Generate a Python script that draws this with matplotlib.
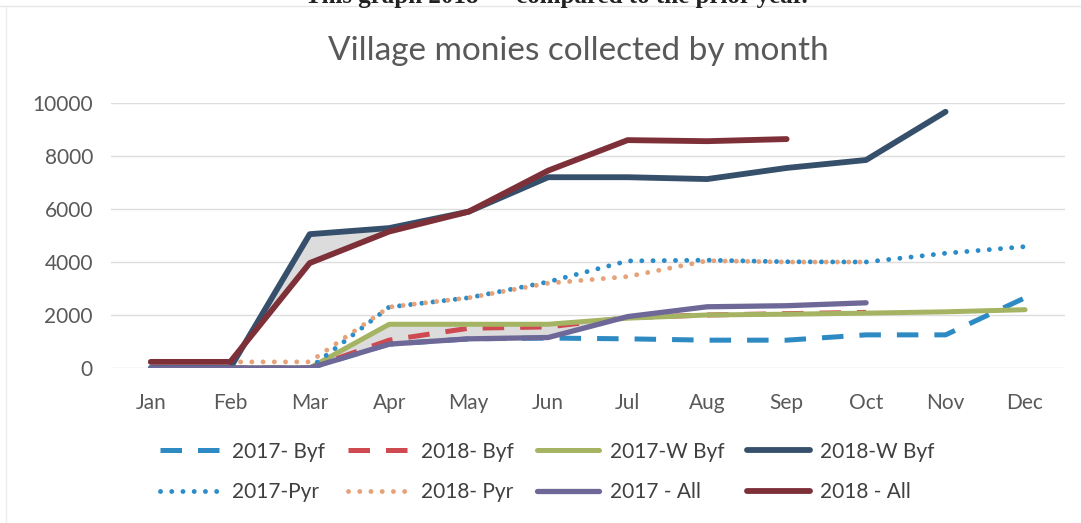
import numpy as np
import matplotlib
matplotlib.use("Agg")
import matplotlib.pyplot as plt
from matplotlib.lines import Line2D

plt.rcParams['font.family'] = ['Lato', 'DejaVu Sans']

months = ['Jan', 'Feb', 'Mar', 'Apr', 'May', 'Jun', 'Jul', 'Aug', 'Sep', 'Oct', 'Nov', 'Dec']

# values (None = no data)
byf_2017 = [0, 0, 0, 900, 1100, 1130, 1100, 1050, 1050, 1250, 1250, 2650]
byf_2018 = [0, 0, 0, 1050, 1500, 1550, 1900, 2000, 2050, 2100, None, None]
wbyf_2017 = [0, 0, 0, 1650, 1650, 1650, 1880, 2000, 2030, 2070, 2120, 2200]
wbyf_2018 = [0, 0, 5050, 5280, 5900, 7200, 7200, 7130, 7550, 7850, 9670, None]
pyr_2017 = [0, 0, 0, 2300, 2650, 3250, 4040, 4070, 4010, 4000, 4330, 4580]
pyr_2018 = [230, 230, 230, 2300, 2650, 3200, 3450, 4050, 4000, 4000, None, None]
all_2017 = [0, 0, 0, 900, 1100, 1150, 1940, 2310, 2350, 2460, None, None]
all_2018 = [230, 230, 3960, 5150, 5900, 7450, 8600, 8560, 8640, None, None, None]

def arr(v):
    return np.array([np.nan if x is None else x for x in v], dtype=float)

fig = plt.figure(figsize=(10.81, 5.23), dpi=100)
ax = fig.add_axes([0.1027, 0.2964, 0.8823, 0.5066])
x = np.arange(len(months))

# grey shading where the "W Byf" line sits above the "All" line
for w, a in [(wbyf_2017, all_2017), (wbyf_2018, all_2018)]:
    w, a = arr(w), arr(a)
    ok = ~np.isnan(w) & ~np.isnan(a)
    ax.fill_between(x[ok], a[ok], w[ok], where=w[ok] > a[ok], interpolate=True,
                    color='#DCDCDC', lw=0, zorder=1)

series = [
    ('2017- Byf', byf_2017, '#2E8AC2', 3.6, (0, (4.3, 3.2)), 'butt'),
    ('2018- Byf', byf_2018, '#CE4A50', 3.6, (0, (4.3, 3.2)), 'butt'),
    ('2017-W Byf', wbyf_2017, '#A5B462', 3.6, '-', 'round'),
    ('2018-W Byf', wbyf_2018, '#36506C', 4.2, '-', 'round'),
    ('2017-Pyr', pyr_2017, '#2A8CC8', 3.5, (0, (0.01, 2.3)), 'round'),
    ('2018- Pyr', pyr_2018, '#E6A278', 3.5, (0, (0.01, 2.3)), 'round'),
    ('2017 - All', all_2017, '#6E6898', 3.8, '-', 'round'),
    ('2018 - All', all_2018, '#7E3038', 4.2, '-', 'round'),
]

lines = {}
for i, (name, vals, col, lw, ls, cap) in enumerate(series):
    ln, = ax.plot(x, arr(vals), color=col, lw=lw, linestyle=ls, label=name,
                  dash_capstyle=cap, solid_capstyle='round', zorder=3 + i)
    lines[name] = ln

ax.set_xlim(-0.5, 11.5)
ax.set_ylim(0, 10000)
ax.set_yticks(range(0, 10001, 2000))
ax.set_xticks(x)
ax.set_xticklabels(months)
ax.grid(axis='y', color='#DDDDDD', lw=1)
ax.set_axisbelow(True)
for s in ax.spines.values():
    s.set_visible(False)
ax.tick_params(axis='both', length=0, labelsize=15, labelcolor='#595959')
ax.tick_params(axis='x', pad=18)
ax.tick_params(axis='y', pad=13)

fig.text(0.535, 0.902, 'Village monies collected by month', ha='center', va='center',
         fontsize=24, color='#595959')

# clipped heading of the scanned page
fig.text(0.515, 0.9943, 'This graph 2018 \u2014 compared to the prior year.', ha='center',
         va='baseline', fontsize=18, weight='bold', family='Liberation Serif', color='#222222')
fig.add_artist(Line2D([0, 1], [1 - 6 / 523, 1 - 6 / 523], color='#E6E6E6', lw=1))
fig.add_artist(Line2D([6 / 1081, 6 / 1081], [0, 1 - 6 / 523], color='#EDEDED', lw=1))

order = ['2017- Byf', '2017-Pyr', '2018- Byf', '2018- Pyr',
         '2017-W Byf', '2017 - All', '2018-W Byf', '2018 - All']
fig.legend([lines[n] for n in order], order, loc='center', bbox_to_anchor=(0.506, 0.0975),
           ncol=4, frameon=False, fontsize=15, handlelength=3.0, handletextpad=0.5,
           columnspacing=1.1, labelcolor='#404040', labelspacing=1.0)

fig.savefig('out.png', dpi=100)
